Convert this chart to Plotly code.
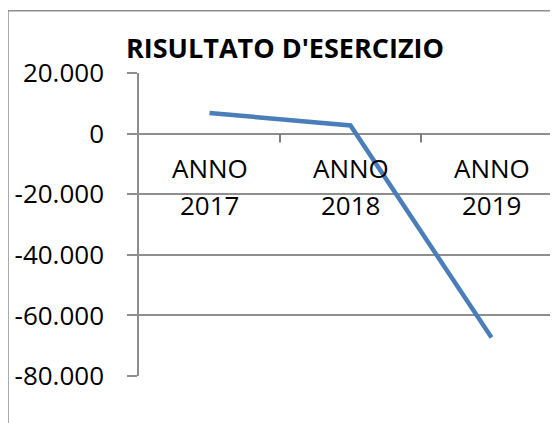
import plotly.graph_objects as go

categories = ["ANNO 2017", "ANNO 2018", "ANNO 2019"]
values = [6800, 2700, -67300]
y_ticks = [20000, 0, -20000, -40000, -60000, -80000]
y_tick_labels = ["20.000", "0", "-20.000", "-40.000", "-60.000", "-80.000"]
title_text = "RISULTATO D'ESERCIZIO"

FONT = "Open Sans"
GRID = "#8E8E8E"
W, H = 558, 423
OFF = 8  # page body margin
L, R, T, B = 139 - OFF, OFF, 73 - OFF, H - (376 - OFF)

xpos = list(range(len(categories)))
boundaries = [i + 0.5 for i in xpos[:-1]]

ymin, ymax = -80000, 20000
pw, ph = W - L - R, H - T - B
cat_px = 141.0
xr = [-0.5, -0.5 + pw / cat_px]
tick_len_data = 9 * (ymax - ymin) / ph

fig = go.Figure()
fig.add_trace(go.Scatter(
    x=xpos, y=values, mode="lines",
    line=dict(color="#4A7EBB", width=4.5),
    hoverinfo="skip", showlegend=False,
))

# category labels under the zero line (two lines each)
for i, c in zip(xpos, categories):
    first, second = c.split(" ")
    fig.add_annotation(x=i, y=0, xref="x", yref="y", text=first, showarrow=False,
                       yanchor="middle", yshift=-34,
                       font=dict(family=FONT, size=26, color="#000000"))
    fig.add_annotation(x=i, y=0, xref="x", yref="y", text=second, showarrow=False,
                       yanchor="middle", yshift=-71,
                       font=dict(family=FONT, size=26, color="#000000"))

# category boundary tick marks hanging from the horizontal (zero) axis
for b in boundaries:
    fig.add_shape(type="line", xref="x", yref="y", x0=b, x1=b,
                  y0=0, y1=-tick_len_data, layer="above",
                  line=dict(color="#7F7F7F", width=2))

# outer chart border (left and top edges visible)
bx = (0.0 - L) / pw
by = (H - B - 2.7) / ph
fig.add_shape(type="path", xref="paper", yref="paper",
              path=f"M {bx} -0.3 L {bx} {by} L 1.05 {by}",
              line=dict(color=GRID, width=1.5))

fig.update_layout(
    width=W, height=H,
    margin=dict(l=L, r=R, t=T, b=B),
    paper_bgcolor="white", plot_bgcolor="white",
    title=dict(text=f"<b>{title_text}</b>", x=(285 - OFF) / W,
               xanchor="center", y=1 - (48.5 - OFF) / H, yanchor="middle",
               font=dict(family=FONT, size=27, color="#000000")),
    xaxis=dict(
        range=xr, showgrid=False, zeroline=False, showline=False,
        ticks="", showticklabels=False,
    ),
    yaxis=dict(
        range=[ymin, ymax], tickvals=y_ticks, ticktext=y_tick_labels,
        showgrid=True, gridcolor=GRID, gridwidth=1.5,
        zeroline=True, zerolinecolor=GRID, zerolinewidth=1.5,
        showline=True, linecolor=GRID, linewidth=1.5,
        ticks="outside", ticklen=10, tickcolor=GRID, tickwidth=1.5,
        ticklabelstandoff=18,
        tickfont=dict(family=FONT, size=26, color="#000000"),
    ),
)

fig.write_html("out.html")
